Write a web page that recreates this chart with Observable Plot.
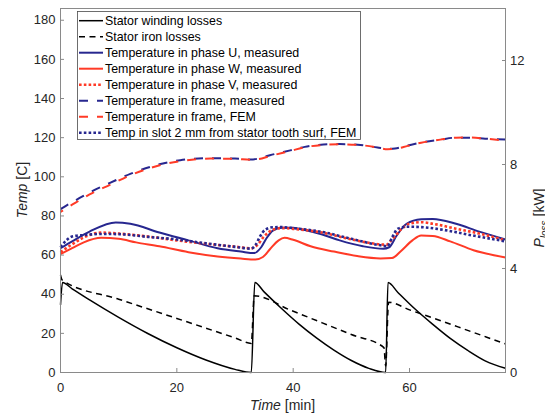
<!DOCTYPE html>
<html><head><meta charset="utf-8">
<script src="https://cdn.jsdelivr.net/npm/d3@7"></script>
<script src="https://cdn.jsdelivr.net/npm/@observablehq/plot@0.6"></script>
<style>
html,body{margin:0;padding:0;background:#fff;}
#chart{width:545px;height:415px;overflow:hidden;}
</style></head><body><div id="chart"></div>
<script>
// ---- axis ticks ----
const xTicks = [0, 20, 40, 60];
const tempTicks = [0, 20, 40, 60, 80, 100, 120, 140, 160, 180];
const powerTicks = [0, 4, 8, 12];
const tempMax = 186;   // left axis top [C]
const powerMax = 14;   // right axis top [kW]
const timeMax = 76.5;

// ---- series: losses [kW] ----
const windT = [0, 0.35, 2, 5, 10, 15, 20, 25, 30, 32.8, 33.4, 35, 38, 41, 44, 47, 50, 53, 55.9, 56.3, 58, 61, 64, 67, 70, 73, 76.5];
const windP = [2.6, 3.46, 3.22, 2.79, 2.12, 1.50, 0.95, 0.48, 0.12, 0, 3.46, 3.10, 2.46, 1.86, 1.33, 0.86, 0.46, 0.16, 0, 3.46, 3.08, 2.43, 1.85, 1.31, 0.85, 0.45, 0.16];
const ironT = [0, 0.3, 10, 20, 30, 32.8, 33.3, 39.5, 45, 50, 55.6, 55.9, 56.4, 60, 65, 70, 76.5];
const ironP = [3.75, 3.55, 2.82, 2.08, 1.33, 1.12, 2.95, 2.40, 1.91, 1.46, 0.96, 0.25, 2.7, 2.41, 2.02, 1.62, 1.10];

// ---- series: temperatures [C] ----
const uT = [0, 2, 5, 9.5, 12, 17, 22, 27, 31, 33.3, 34.5, 35.5, 36.5, 38, 40, 42, 45, 48, 52, 55.5, 56.5, 57.8, 59.5, 62, 64, 68, 72, 76.5];
const uV = [63.5, 67, 72, 76.7, 76, 71.5, 67.5, 63.5, 61.8, 61, 64, 69, 72.5, 74, 74, 72.8, 70.5, 67.5, 64.5, 63.2, 64, 70, 76, 78.3, 78.5, 76, 72, 68];
const wT = [0, 2, 4, 7, 10, 13, 17, 22, 27, 31, 33.5, 34.8, 36, 37.5, 38.5, 40, 43, 47, 51, 55, 57, 58.5, 60.5, 62, 64, 67, 71, 76.5];
const wV = [60.5, 63.5, 66.5, 68.8, 68.3, 66.5, 64.5, 61.5, 59.3, 58.2, 57.7, 59, 63, 67.5, 68.8, 67.8, 64.5, 61.8, 59.5, 58.3, 58.5, 62, 67.5, 70, 69.8, 67, 62.5, 58.8];
const vT = [0, 2, 4, 7, 10, 15, 20, 25, 30, 32.8, 33.8, 35, 36.5, 38, 40, 45, 50, 55, 56, 57, 58.5, 60, 62, 64, 68, 72, 76.5];
const vV = [61.5, 65.5, 69, 71.5, 71, 69.5, 67.5, 65.8, 64.3, 63.5, 65, 69.5, 73, 73.8, 73.4, 71.5, 68, 65.5, 65.3, 68, 73, 76, 76.8, 76, 73.5, 71, 67.5];
const frameT = [0, 1, 2.6, 5, 8.6, 12, 17.2, 20.6, 25.8, 30, 32.7, 34, 36, 39.5, 42, 45.2, 48, 51.1, 54.5, 56.2, 57.5, 59.7, 62, 65.3, 68, 70.5, 73, 76.5];
const frameMeasV = [83.5, 85.3, 88, 92, 97, 101.5, 106.5, 108.5, 109.5, 109.3, 108.8, 109.3, 111, 113.5, 115.3, 116.5, 116.7, 116.4, 115, 114.3, 114.5, 116, 117.5, 119, 120, 120, 119.5, 119];
const frameFemV = [82, 84, 86.8, 91, 96, 100.8, 106, 108, 109.3, 109.2, 108.7, 109, 110.6, 113.2, 115.1, 116.3, 116.6, 116.3, 115, 114.1, 114.3, 115.8, 117.4, 119, 120, 120.1, 119.5, 118.5];
const slotT = [0, 1, 2, 4, 7, 10, 15, 20, 25, 30, 32.8, 33.5, 34.3, 35.2, 36.5, 38, 40, 45, 50, 55, 56.2, 57, 58, 59.5, 62, 66, 70, 76.5];
const slotV = [64, 67.5, 69.5, 70.2, 70.8, 70.7, 69.3, 68, 66, 64.2, 63.3, 65, 69.5, 73, 74.2, 74.3, 73.8, 71.8, 68.3, 65, 64.5, 69, 73.5, 74.5, 74.3, 72.8, 70.5, 67];

const legendLabels = [
  "Stator winding losses",
  "Stator iron losses",
  "Temperature in phase U, measured",
  "Temperature in phase W, measured",
  "Temperature in phase V, measured",
  "Temperature in frame, measured",
  "Temperature in frame, FEM",
  "Temp in slot 2 mm from stator tooth surf, FEM"
];

const K = tempMax / powerMax; // C per kW on the shared vertical scale
const BLUE = "#27278f", RED = "#ff3a26", GRAY = "#8a8a8a";
const zip = (t, v, f = 1) => t.map((d, i) => ({t: d, v: v[i] * f}));

const series = [
  {data: zip(windT, windP, K), stroke: "#000", width: 1.5, dash: null},
  {data: zip(ironT, ironP, K), stroke: "#000", width: 1.5, dash: "6,4.5"},
  {data: zip(uT, uV), stroke: BLUE, width: 2, dash: null},
  {data: zip(wT, wV), stroke: RED, width: 2, dash: null},
  {data: zip(vT, vV), stroke: RED, width: 2.6, dash: "2.6,2.2"},
  {data: zip(frameT, frameMeasV), stroke: BLUE, width: 2, dash: "9,9", offset: 0},
  {data: zip(frameT, frameFemV), stroke: RED, width: 2, dash: "9,9", offset: 6},
  {data: zip(slotT, slotV), stroke: BLUE, width: 2.6, dash: "2.6,2.2"}
];

const plot = Plot.plot({
  width: 545, height: 415,
  marginLeft: 60, marginRight: 40, marginTop: 8, marginBottom: 43,
  style: {fontFamily: "'Liberation Sans', Arial, sans-serif", fontSize: "13px", color: "#262626", background: "#fff"},
  x: {domain: [0, timeMax]},
  y: {domain: [0, tempMax]},
  marks: [
    ...series.map(s => Plot.line(s.data, {
      x: "t", y: "v", stroke: s.stroke, strokeWidth: s.width,
      strokeDasharray: s.dash, strokeDashoffset: s.offset || 0,
      curve: "monotone-x", strokeLinecap: "butt", strokeLinejoin: "round"
    })),
    Plot.frame({stroke: GRAY, strokeWidth: 1}),
    Plot.axisX({ticks: xTicks, tickSize: -4, tickPadding: 14, stroke: GRAY, fill: "#262626", label: null, tickFormat: d => String(d)}),
    Plot.axisY({ticks: tempTicks, tickSize: -4, tickPadding: 9, stroke: GRAY, fill: "#262626", label: null, tickFormat: d => String(d)}),
    Plot.axisY({anchor: "right", ticks: powerTicks.map(p => p * K), tickSize: -4, tickPadding: 8.5, stroke: GRAY, fill: "#262626", label: null,
      tickFormat: d => String(Math.round(d / K))})
  ]
});
document.getElementById("chart").appendChild(plot);

// ---- legend & axis titles ----
const svg = d3.select(plot);
const lg = svg.append("g").attr("font-family", "'Liberation Sans', Arial, sans-serif").attr("font-size", "12.4px").attr("text-anchor", "start");
lg.append("rect").attr("x", 77.5).attr("y", 11.5).attr("width", 283).attr("height", 128)
  .attr("fill", "#fff").attr("stroke", "#4a4a4a").attr("stroke-width", 0.8);
legendLabels.forEach((lab, i) => {
  const y = 20.7 + i * 16;
  const s = series[i];
  lg.append("line").attr("x1", 79).attr("x2", 103).attr("y1", y).attr("y2", y)
    .attr("stroke", s.stroke).attr("stroke-width", s.width)
    .attr("stroke-dasharray", s.dash);
  lg.append("text").attr("x", 105).attr("y", y).attr("dy", "0.36em").attr("text-anchor", "start").attr("fill", "#000").text(lab);
});

const tg = svg.append("g").attr("font-family", "'Liberation Sans', Arial, sans-serif").attr("font-size", "14px").attr("fill", "#262626");
const xl = tg.append("text").attr("x", 282.5).attr("y", 410).attr("text-anchor", "middle");
xl.append("tspan").attr("font-style", "italic").text("Time");
xl.append("tspan").text(" [min]");
const yl = tg.append("text").attr("transform", "translate(27,190) rotate(-90)").attr("text-anchor", "middle");
yl.append("tspan").attr("font-style", "italic").text("Temp");
yl.append("tspan").text(" [C]");
const pl = tg.append("text").attr("transform", "translate(544,218) rotate(-90)").attr("text-anchor", "middle");
pl.append("tspan").attr("font-style", "italic").text("P");
pl.append("tspan").attr("font-style", "italic").attr("font-size", "10px").attr("dy", 4).text("loss");
pl.append("tspan").attr("dy", -4).text(" [kW]");
</script></body></html>
